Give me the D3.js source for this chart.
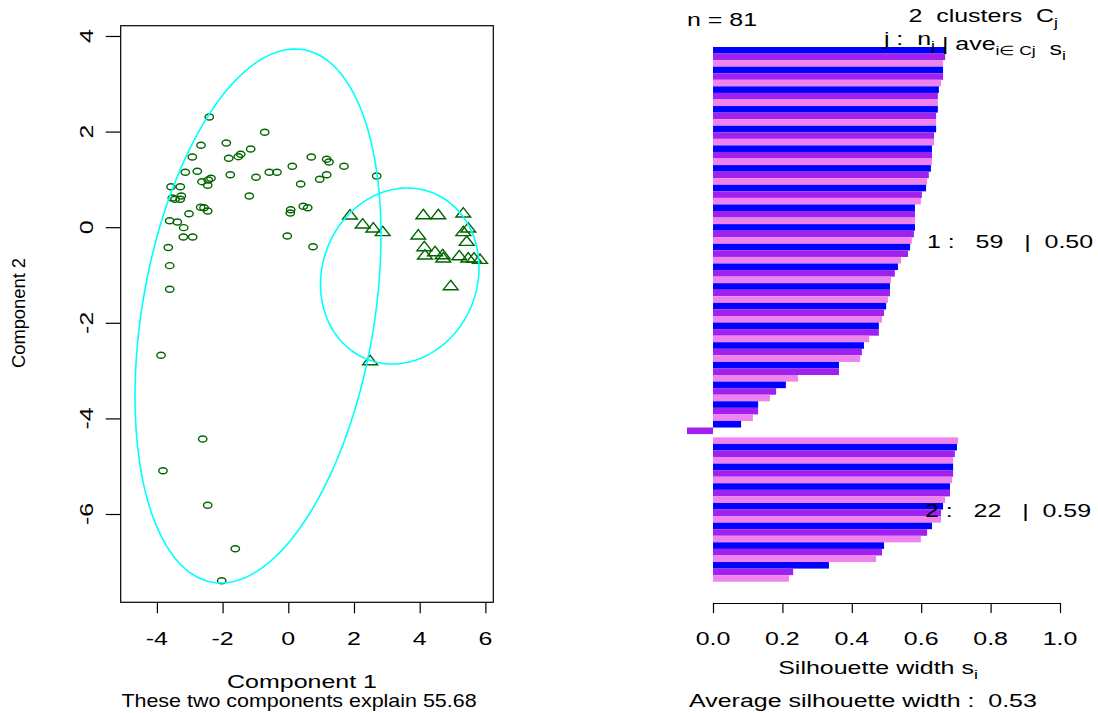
<!DOCTYPE html>
<html>
<head>
<meta charset="utf-8">
<script src="https://cdn.jsdelivr.net/npm/d3@7"></script>
<style>
  body { margin: 0; background: #fff; }
  text { font-family: "Liberation Sans", Arial, sans-serif; white-space: pre; }
</style>
</head>
<body>
<div id="chart"></div>
<script>
// cluster 1 points (circles) in component space
const clus1_x = [-2.405,-0.718,-2.658,-1.887,-1.145,-1.449,-1.522,-1.814,-2.922,0.700,
  1.169,1.239,1.696,0.122,-3.135,-2.770,-0.578,-0.344,-1.766,1.169,
  0.956,-0.983,-2.353,-2.435,-2.627,-2.454,0.377,2.691,-3.571,-3.288,
  -1.187,-3.257,-3.531,-3.449,-3.288,-2.667,-2.566,-2.454,-3.023,0.073,
  0.061,0.457,0.591,-3.610,-3.379,-3.184,-3.196,-2.910,-0.030,-3.653,
  0.752,-3.610,-3.610,-3.875,-2.606,-3.814,-2.454,-1.613,-2.027];
const clus1_y = [2.305,1.985,1.713,1.762,1.636,1.525,1.475,1.441,1.469,1.469,
  1.421,1.364,1.274,1.274,1.149,1.169,1.149,1.149,1.098,1.098,
  1.002,1.044,1.023,0.987,0.952,0.877,0.904,1.071,0.847,0.847,
  0.653,0.653,0.611,0.584,0.584,0.416,0.408,0.339,0.282,0.366,
  0.297,0.437,0.408,0.136,0.109,-0.010,-0.205,-0.205,-0.184,-0.425,
  -0.408,-0.805,-1.299,-2.680,-4.431,-5.094,-5.818,-6.726,-7.395];
// cluster 2 points (triangles)
const clus2_x = [1.878,2.265,2.588,2.874,4.110,4.566,5.327,3.957,5.479,5.327,
  5.431,4.140,4.161,4.466,4.700,4.718,5.205,5.479,5.653,5.836,4.944,2.490];
const clus2_y = [0.270,0.082,-0.002,-0.079,0.276,0.276,0.312,-0.149,-0.002,-0.079,
  -0.282,-0.393,-0.567,-0.498,-0.561,-0.630,-0.582,-0.630,-0.630,-0.659,-1.209,-2.778];

// spanning ellipses: centre and shape matrix [a, b, d]
const ell_center = [[-0.922, -1.858], [3.393, -1.021]];
const ell_shape = [[14.02, 6.292, 31.20], [5.820, 0.420, 3.389]];

const x_ticks = [-4, -2, 0, 2, 4, 6];
const y_ticks = [-6, -4, -2, 0, 2, 4];

// silhouette widths, sorted within cluster
const sil_clus1 = [0.669,0.669,0.663,0.663,0.663,0.657,0.651,0.648,0.648,0.648,
  0.643,0.643,0.643,0.637,0.637,0.631,0.631,0.631,0.628,0.622,
  0.617,0.614,0.602,0.599,0.582,0.582,0.582,0.582,0.579,0.573,
  0.568,0.562,0.542,0.533,0.524,0.513,0.510,0.510,0.504,0.499,
  0.493,0.487,0.478,0.478,0.450,0.435,0.429,0.424,0.363,0.363,
  0.245,0.210,0.182,0.164,0.130,0.130,0.115,0.081,-0.075];
const sil_clus2 = [0.706,0.703,0.697,0.692,0.692,0.692,0.689,0.683,0.683,0.669,
  0.663,0.657,0.657,0.631,0.617,0.599,0.493,0.487,0.470,0.334,0.231,0.219];
const sil_ticks = [0, 0.2, 0.4, 0.6, 0.8, 1.0];
const bar_colors = ["#0000FF", "#A020F0", "#EE82EE"];

const W = 1098, H = 713;
const FS = 18.5, SX = 1.35;

const svg = d3.select("#chart").append("svg")
    .attr("width", W).attr("height", H);

// R text on this device is wide, so stretch glyphs horizontally
function txt(g, x, y, s, anchor, rot, stretch) {
  return g.append("text")
    .attr("transform", `translate(${x},${y})` + (rot ? " rotate(-90)" : "") + ` scale(${stretch || SX},1)`)
    .attr("text-anchor", anchor || "start")
    .style("font-size", FS + "px")
    .text(s);
}
function sub(t, s, before) {
  if (before) t.append("tspan").text(before);
  t.append("tspan").attr("dy", 5).style("font-size", "13px").text(s);
  t.append("tspan").attr("dy", -5).text("");
  return t;
}

// ---------- left: clusplot ----------
const x = d3.scaleLinear().domain([-5.102, 6.241]).range([120.7, 493.3]);
const y = d3.scaleLinear().domain([-7.847, 4.215]).range([602.3, 25.7]);
const left = svg.append("g");

const pts1 = clus1_x.map((v, i) => ({x: v, y: clus1_y[i]}));
const pts2 = clus2_x.map((v, i) => ({x: v, y: clus2_y[i]}));

left.selectAll("ellipse.p1").data(pts1).join("ellipse")
    .attr("cx", d => x(d.x)).attr("cy", d => y(d.y))
    .attr("rx", 4.2).attr("ry", 3.0)
    .attr("fill", "none").attr("stroke", "#006400").attr("stroke-width", 1.4);

left.selectAll("path.p2").data(pts2).join("path")
    .attr("d", d => {
      const cx = x(d.x), cy = y(d.y);
      return `M${cx},${cy - 4.7}L${cx + 7.4},${cy + 4.7}L${cx - 7.4},${cy + 4.7}Z`;
    })
    .attr("fill", "none").attr("stroke", "#006400").attr("stroke-width", 1.4);

// ellipses
const tt = d3.range(0, 2 * Math.PI, Math.PI / 90);
const ellLine = d3.line().x(d => x(d[0])).y(d => y(d[1])).curve(d3.curveLinearClosed);
ell_center.forEach((c, k) => {
  const [a, b, dd] = ell_shape[k];
  const l11 = Math.sqrt(a), l21 = b / l11, l22 = Math.sqrt(dd - l21 * l21);
  const pts = tt.map(t => [c[0] + l11 * Math.cos(t), c[1] + l21 * Math.cos(t) + l22 * Math.sin(t)]);
  left.append("path").attr("d", ellLine(pts))
      .attr("fill", "none").attr("stroke", "#00FFFF").attr("stroke-width", 1.6);
});

// box
left.append("rect")
    .attr("x", x.range()[0]).attr("y", y.range()[1])
    .attr("width", x.range()[1] - x.range()[0]).attr("height", y.range()[0] - y.range()[1])
    .attr("fill", "none").attr("stroke", "#000").attr("stroke-width", 1.2);

const xa = left.append("g").attr("transform", `translate(0,${y.range()[0]})`)
    .call(d3.axisBottom(x).tickValues(x_ticks).tickSize(11).tickFormat(d3.format("d")));
xa.select(".domain").remove();
xa.selectAll("line").attr("stroke", "#000").attr("stroke-width", 1.2);
xa.selectAll("text").remove();
x_ticks.forEach(v => txt(left, x(v), 645, v < 0 ? "-" + Math.abs(v) : String(v), "middle"));

const ya = left.append("g").attr("transform", `translate(${x.range()[0]},0)`)
    .call(d3.axisLeft(y).tickValues(y_ticks).tickSize(15));
ya.select(".domain").remove();
ya.selectAll("line").attr("stroke", "#000").attr("stroke-width", 1.2);
ya.selectAll("text").remove();
y_ticks.forEach(v => txt(left, 93, y(v), v < 0 ? "-" + Math.abs(v) : String(v), "middle", true));

txt(left, 302, 688, "Component 1", "middle");
txt(left, 299, 707, "These two components explain 55.68", "middle", false, 1.16);
left.append("text")
    .attr("transform", "translate(25,313) rotate(-90)")
    .attr("text-anchor", "middle")
    .attr("textLength", 110).attr("lengthAdjust", "spacingAndGlyphs")
    .style("font-size", FS + "px")
    .text("Component 2");

// ---------- right: silhouette ----------
const sx = d3.scaleLinear().domain([0, 1]).range([713, 1060]);
const nBars = sil_clus1.length + sil_clus2.length;
const by = d3.scaleLinear().domain([0, nBars + 0.5]).range([47, 581.7]);
const bars = sil_clus1.map((v, i) => ({s: v, pos: i}))
  .concat(sil_clus2.map((v, j) => ({s: v, pos: sil_clus1.length + 0.5 + j})));
const right = svg.append("g");

right.selectAll("rect.bar").data(bars).join("rect")
    .attr("x", d => sx(Math.min(0, d.s)))
    .attr("width", d => Math.abs(sx(d.s) - sx(0)))
    .attr("y", d => by(d.pos))
    .attr("height", by(1) - by(0))
    .attr("fill", (d, i) => bar_colors[i % 3]);

const sa = right.append("g").attr("transform", "translate(0,603)")
    .call(d3.axisBottom(sx).tickValues(sil_ticks).tickSize(10).tickSizeOuter(0));
sa.select(".domain").attr("stroke", "#000").attr("stroke-width", 1.2);
sa.selectAll("line").attr("stroke", "#000").attr("stroke-width", 1.2);
sa.selectAll("text").remove();
sil_ticks.forEach(v => txt(right, sx(v), 645, d3.format(".1f")(v), "middle"));

txt(right, 687, 26, "n = " + nBars);
sub(txt(right, 1058, 22, "2  clusters  C", "end"), "j");
const hdr = txt(right, 1066, 45, "j :  n", "end");
sub(hdr, "j");
hdr.append("tspan").text(" | ave");
sub(hdr, "i\u2208 Cj");
hdr.append("tspan").text("  s");
sub(hdr, "i");

const avg1 = d3.mean(sil_clus1), avg2 = d3.mean(sil_clus2);
txt(right, 927, 248, "1 :   " + sil_clus1.length + "   |  " + avg1.toFixed(2));
txt(right, 925, 517, "2 :   " + sil_clus2.length + "   |  " + avg2.toFixed(2));

sub(txt(right, 878, 674, "Silhouette width s", "middle"), "i");
txt(right, 689, 707, "Average silhouette width :  0.53");
</script>
</body>
</html>
